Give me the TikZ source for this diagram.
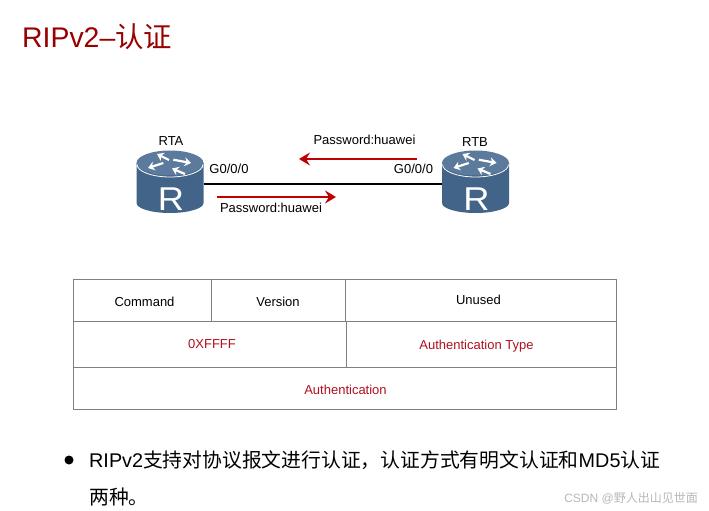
\documentclass[tikz,border=0pt]{standalone}
\usepackage{fontspec}
\setmainfont{Liberation Sans}
\newfontfamily\cjk{Noto Sans CJK SC}
\usetikzlibrary{arrows.meta}
\definecolor{titlered}{HTML}{990000}
\definecolor{arrowred}{HTML}{C00000}
\definecolor{cellred}{HTML}{B01020}
\definecolor{rtop}{HTML}{5B7A9C}
\definecolor{rbody}{HTML}{426488}
\definecolor{gridgray}{HTML}{808080}
\tikzset{
  routerbox/.style={minimum width=67pt,minimum height=58pt,inner sep=0pt,outer sep=0pt},
  lbl/.style={font=\fontsize{13}{15}\selectfont,inner sep=0pt,text=black},
  flow/.style={draw=arrowred,line width=2.8pt,-{Stealth[length=11pt,width=13pt,inset=4pt]}},
  link/.style={draw=black,line width=2pt},
  cell/.style={draw=gridgray,line width=.7pt,inner sep=0pt,outer sep=0pt},
  cjktext/.style={font=\fontsize{19.8}{24}\selectfont,inner sep=0pt,anchor=west,text=black},
  whitearrow/.style={draw=white,line width=2.2pt,-{Stealth[length=6.5pt,width=9pt]}}
}
\newcommand{\routerart}[1]{%
  \begin{scope}[shift={(#1)}]
    \fill[rbody] (-33.5,-21) -- (-33.5,19) arc[start angle=180,end angle=0,x radius=33.5,y radius=10] -- (33.5,-21) -- cycle;
    \fill[rtop] (0,-21) ellipse[x radius=33.5,y radius=12.5];
    \draw[white,line width=.8pt] (-33,-19.5) arc[start angle=180,end angle=0,x radius=33,y radius=12.5];
    \draw[whitearrow] (-1,-24) -- (-13,-30);
    \draw[whitearrow] (-6.7,-21) -- (-22,-16);
    \draw[whitearrow] (3.3,-24.3) -- (21,-21);
    \draw[whitearrow] (15,-10) -- (2,-15.5);
    \node[text=white,inner sep=0pt,font=\fontsize{33}{38}\selectfont,xscale=1.1] at (1,15) {R};
  \end{scope}}
\begin{document}
\begin{tikzpicture}[x=1pt,y=-1pt]
\useasboundingbox (0,0) rectangle (709,511);
\fill[white] (0,0) rectangle (709,511);
% title
\node[anchor=west,inner sep=0pt,text=titlered,font=\fontsize{28.4}{32}\selectfont] (title) at (22,37) {RIPv2–{\cjk 认证}};
% routers
\node[routerbox] (rta) at (170,184) {};
\node[routerbox] (rtb) at (475.5,184) {};
\routerart{170,184}
\routerart{475.5,184}
\draw[link] (rta.east) -- (rtb.west);
\node[lbl] (rtalabel) at (171,141) {RTA};
\node[lbl] (rtblabel) at (475,142) {RTB};
\node[lbl] (ifa) at (229,169) {G0/0/0};
\node[lbl] (ifb) at (413.5,169) {G0/0/0};
\coordinate (f1s) at (417,159);
\coordinate (f1e) at (299,159);
\coordinate (f2s) at (217,197);
\coordinate (f2e) at (336,197);
\draw[flow] (f1s) -- (f1e);
\draw[flow] (f2s) -- (f2e);
\node[lbl] (pw1) at (364.5,140) {Password:huawei};
\node[lbl] (pw2) at (271,208) {Password:huawei};
% table
\node[cell,minimum width=138pt,minimum height=42pt] (c1) at (142,300) {};
\node[cell,minimum width=134pt,minimum height=42pt] (c2) at (278,300) {};
\node[cell,minimum width=271pt,minimum height=42pt] (c3) at (480.5,300) {};
\node[cell,minimum width=273pt,minimum height=46pt] (c4) at (209.5,344) {};
\node[cell,minimum width=270pt,minimum height=46pt] (c5) at (481,344) {};
\node[cell,minimum width=543pt,minimum height=42pt] (c6) at (344.5,388) {};
\node[lbl] (t1) at (144.5,302) {Command};
\node[lbl] (t2) at (278,302) {Version};
\node[lbl] (t3) at (478.5,300) {Unused};
\node[lbl,text=cellred] (t4) at (212,344.5) {0XFFFF};
\node[lbl,text=cellred] (t5) at (476.5,346.5) {Authentication Type};
\node[lbl,text=cellred] (t6) at (345.5,389.5) {Authentication};
% bullet text
\fill[black] (69,460) circle[radius=4.5];
\node[cjktext] (line1) at (89,460) {RIPv2{\cjk 支持对协议报文进行认证，认证方式有明文认证和}MD5{\cjk 认证}};
\node[cjktext] (line2) at (89,497) {\cjk 两种。};
\node[anchor=east,inner sep=0pt,text=black!28,font=\fontsize{12}{14}\selectfont] (wm) at (698,498) {CSDN @{\cjk 野人出山见世面}};
\end{tikzpicture}
\end{document}
